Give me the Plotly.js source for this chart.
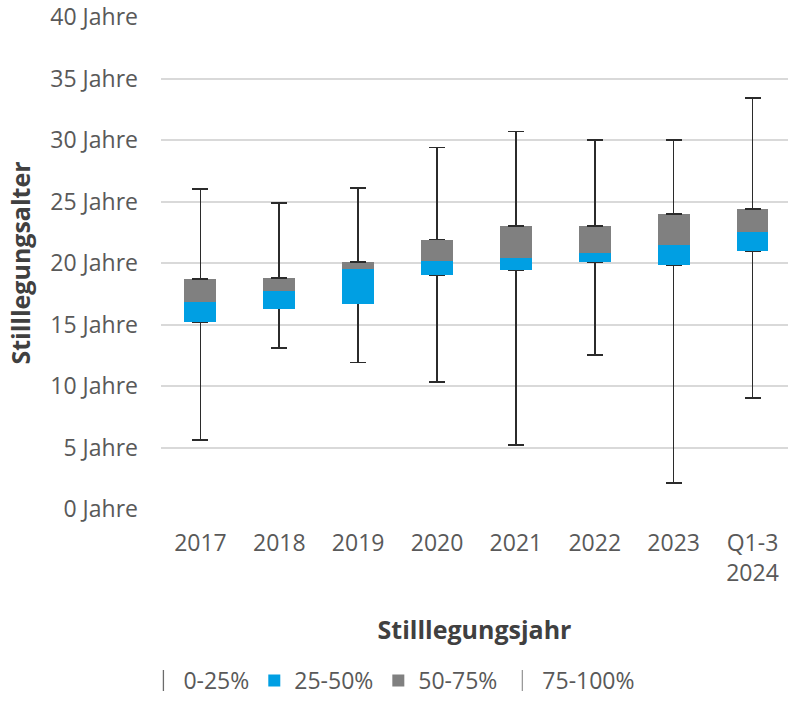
<!DOCTYPE html>
<html>
<head>
<meta charset="utf-8">
<script src="https://cdn.plot.ly/plotly-3.0.1.min.js"></script>
<style>html,body{margin:0;padding:0;background:#fff;}#chart{width:788px;height:702px;}</style>
</head>
<body>
<div id="chart"></div>
<script>
// Categories (years of decommissioning)
const categories = ["2017", "2018", "2019", "2020", "2021", "2022", "2023", "Q1-3<br>2024"];
// Age at decommissioning (years): min, quartiles, max
const minAge    = [5.6, 13.1, 11.9, 10.3, 5.2, 12.5, 2.1, 9.0];
const q1Age     = [15.2, 16.3, 16.7, 19.0, 19.4, 20.1, 19.8, 21.0];
const medianAge = [16.8, 17.7, 19.5, 20.2, 20.4, 20.8, 21.5, 22.5];
const q3Age     = [18.7, 18.8, 20.1, 21.9, 23.0, 23.0, 24.0, 24.4];
const maxAge    = [26.0, 24.9, 26.1, 29.4, 30.7, 30.0, 30.0, 33.4];
// Y tick values and labels
const yTickVals = [0, 5, 10, 15, 20, 25, 30, 35, 40];
const yTickText = ["0 Jahre", "5 Jahre", "10 Jahre", "15 Jahre", "20 Jahre", "25 Jahre", "30 Jahre", "35 Jahre", "40 Jahre"];
const seriesNames = ["0-25%", "25-50%", "50-75%", "75-100%"];

const FONT = "'Open Sans', 'Noto Sans', sans-serif";
const TXT = "#595959";
const WHISK = "#2b2b2b";

const zeros = categories.map(() => 0);
const lowerLen = q1Age.map((q, i) => q - minAge[i]);
const blueLen = medianAge.map((m, i) => m - q1Age[i]);
const greyLen = q3Age.map((q, i) => q - medianAge[i]);
const upperLen = maxAge.map((m, i) => m - q3Age[i]);

const traces = [
  {
    type: "bar", x: categories, y: q1Age, showlegend: false, hoverinfo: "skip",
    marker: {color: "rgba(0,0,0,0)", line: {width: 0}},
    error_y: {type: "data", symmetric: false, array: zeros, arrayminus: lowerLen,
              color: WHISK, thickness: 1.7, width: 8}
  },
  {
    type: "bar", x: categories, y: blueLen, name: seriesNames[1], legendrank: 2,
    marker: {color: "#009FE3", line: {width: 0}}
  },
  {
    type: "bar", x: categories, y: greyLen, name: seriesNames[2], legendrank: 3,
    marker: {color: "#808080", line: {width: 0}},
    error_y: {type: "data", symmetric: false, array: upperLen, arrayminus: zeros,
              color: WHISK, thickness: 1.7, width: 8}
  },
  {
    type: "scatter", mode: "markers", x: [null], y: [null], name: seriesNames[0], legendrank: 1,
    marker: {symbol: "line-ns-open", size: 15, color: "#6b6b6b", line: {width: 1.3, color: "#6b6b6b"}}
  },
  {
    type: "scatter", mode: "markers", x: [null], y: [null], name: seriesNames[3], legendrank: 4,
    marker: {symbol: "line-ns-open", size: 15, color: "#9a9a9a", line: {width: 1.3, color: "#9a9a9a"}}
  }
];

const layout = {
  width: 788, height: 702,
  margin: {l: 161, r: 0, t: 17, b: 193, autoexpand: false},
  paper_bgcolor: "#ffffff", plot_bgcolor: "#ffffff",
  barmode: "stack", bargap: 0.595,
  font: {family: FONT, color: TXT, size: 23},
  showlegend: true,
  legend: {orientation: "h", xref: "container", x: 0.182, xanchor: "left",
           yref: "container", y: 0, yanchor: "bottom",
           font: {family: FONT, size: 23, color: TXT}, traceorder: "normal", itemwidth: 30},
  xaxis: {
    type: "category", range: [-0.5, 7.45], showgrid: false, zeroline: false, showline: false,
    automargin: false,
    ticks: "", ticklabelstandoff: 18, tickfont: {family: FONT, size: 23, color: TXT},
    title: {text: "Stilllegungsjahr", font: {family: FONT, size: 25, color: "#404040", weight: "bold"}, standoff: 34}
  },
  yaxis: {
    range: [0, 40], tickvals: yTickVals, ticktext: yTickText, showgrid: true,
    automargin: false,
    gridcolor: "#d9d9d9", gridwidth: 2, zeroline: false, showline: false, ticks: "",
    ticklabelstandoff: 22,
    tickfont: {family: FONT, size: 23, color: TXT},
    title: {text: "Stilllegungsalter", font: {family: FONT, size: 25, color: "#404040", weight: "bold"}, standoff: 12}
  }
};

Plotly.newPlot("chart", traces, layout, {displayModeBar: false, staticPlot: true});
</script>
</body>
</html>
